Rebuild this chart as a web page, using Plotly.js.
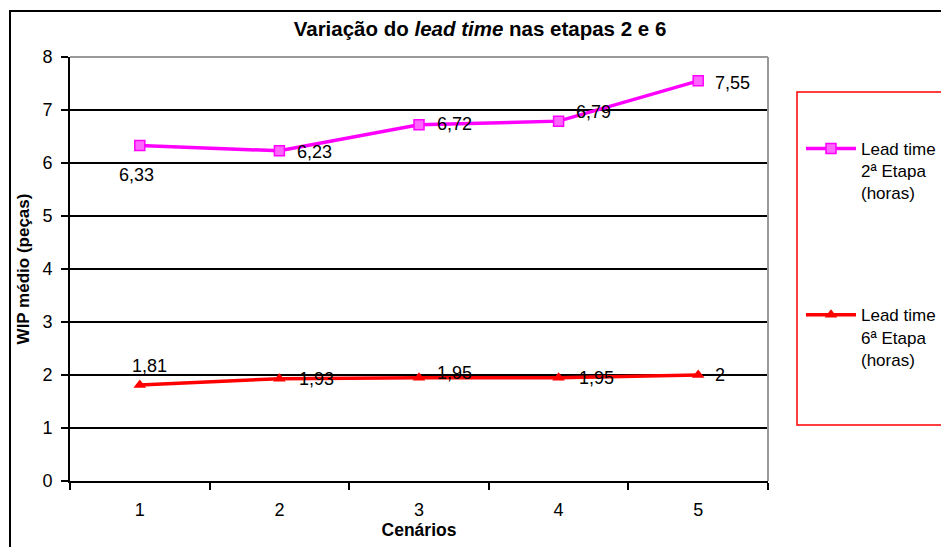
<!DOCTYPE html>
<html>
<head>
<meta charset="utf-8">
<script src="https://cdn.plot.ly/plotly-3.0.1.min.js"></script>
<style>html,body{margin:0;padding:0;background:#fff;}#chart{width:941px;height:547px;}</style>
</head>
<body>
<div id="chart"></div>
<script>
// ---- data ----
const cenarios = ['1', '2', '3', '4', '5'];
const leadTime2 = [6.33, 6.23, 6.72, 6.79, 7.55];
const leadTime6 = [1.81, 1.93, 1.95, 1.95, 2];
const seriesNames = ['Lead time<br>2ª Etapa<br>(horas)', 'Lead time<br>6ª Etapa<br>(horas)'];
const chartTitle = 'Variação do <i>lead time</i> nas etapas 2 e 6';
const xTitle = 'Cenários';
const yTitle = 'WIP médio (peças)';

// ---- label styling (offsets in px) ----
const lab2 = {xanchor: ['center','left','left','left','left'], dx: [-3,16,16,15,15], dy: [-29,-1,1,9,-2]};
const lab6 = {xanchor: ['center','left','left','left','left'], dx: [10,18,16,18,15], dy: [19,0,5,0,0]};

const FONT = '"Liberation Sans", Arial, sans-serif';
const fmt = v => String(v).replace('.', ',');

const traces = [
  {x: cenarios, y: leadTime2, name: seriesNames[0], type: 'scatter', mode: 'lines+markers',
   legendgroup: 'a',
   line: {color: '#ff00ff', width: 3.5},
   marker: {symbol: 'square', size: 10, color: '#ff66ff', line: {color: '#ff00ff', width: 1.5}}},
  {x: cenarios, y: leadTime6, name: seriesNames[1], type: 'scatter', mode: 'lines+markers',
   legendgroup: 'b',
   line: {color: '#ff0000', width: 3.5},
   marker: {symbol: 'triangle-up', size: 11, color: '#ff0000'}}
];

const annotations = [];
function addLabels(vals, st) {
  vals.forEach((v, i) => annotations.push({
    x: i, y: v, xref: 'x', yref: 'y', text: fmt(v), showarrow: false,
    xanchor: st.xanchor[i], yanchor: 'middle', xshift: st.dx[i], yshift: st.dy[i],
    font: {family: FONT, size: 18, color: '#000'}
  }));
}
addLabels(leadTime2, lab2);
addLabels(leadTime6, lab6);

const L = 70, R = 768, T = 57, B = 481, W = 941, H = 547;
const px = p => (p - L) / (R - L);
const py = p => (B - p) / (B - T);

const shapes = [
  // outer chart border
  {type: 'rect', xref: 'paper', yref: 'paper', x0: px(10), x1: px(1100), y0: py(700), y1: py(11),
   line: {color: '#000', width: 2}, layer: 'below'},
  // plot area top & right border (gray)
  {type: 'line', xref: 'paper', yref: 'paper', x0: 0, x1: 1, y0: 1, y1: 1, line: {color: '#999', width: 2}},
  {type: 'line', xref: 'paper', yref: 'paper', x0: 1, x1: 1, y0: 0, y1: 1, line: {color: '#999', width: 2}},
  // legend box
  {type: 'rect', xref: 'paper', yref: 'paper', x0: px(797), x1: px(1100), y0: py(425), y1: py(92),
   line: {color: '#ff0000', width: 1.5}}
];

const layout = {
  width: W, height: H,
  margin: {l: L, r: W - R, t: T, b: H - B, pad: 0, autoexpand: false},
  paper_bgcolor: '#fff', plot_bgcolor: '#fff',
  font: {family: FONT, size: 18, color: '#000'},
  title: {text: chartTitle, font: {family: FONT, size: 20.5, weight: 700, color: '#000'},
          xref: 'paper', x: px(480), xanchor: 'center', yref: 'container', y: 1 - 29 / H, yanchor: 'middle'},
  xaxis: {type: 'category', tickson: 'boundaries', ticks: 'outside', ticklen: 7, tickwidth: 2, tickcolor: '#000',
          range: [-0.5, 4.5],
          showline: true, linecolor: '#000', linewidth: 2, showgrid: false, zeroline: false,
          ticklabelstandoff: 11,
          tickfont: {family: FONT, size: 18},
          title: {text: xTitle, font: {family: FONT, size: 17.5, weight: 700}, standoff: 5}},
  yaxis: {range: [0, 8], dtick: 1, tick0: 0, ticks: 'outside', ticklen: 7, tickwidth: 2, tickcolor: '#000',
          showline: true, linecolor: '#000', linewidth: 2, showgrid: true, gridcolor: '#000', gridwidth: 1.5,
          zeroline: false, ticklabelstandoff: 5,
          tickfont: {family: FONT, size: 18},
          title: {text: yTitle, font: {family: FONT, size: 17, weight: 700}, standoff: 8}},
  showlegend: true,
  legend: {x: px(801), xanchor: 'left', y: py(131), yanchor: 'top', bgcolor: 'rgba(0,0,0,0)',
           traceorder: 'grouped', tracegroupgap: 97, valign: 'top', itemwidth: 50,
           font: {family: FONT, size: 17, color: '#000'}},
  shapes: shapes,
  annotations: annotations
};

Plotly.newPlot('chart', traces, layout, {displayModeBar: false, staticPlot: true});
</script>
</body>
</html>
